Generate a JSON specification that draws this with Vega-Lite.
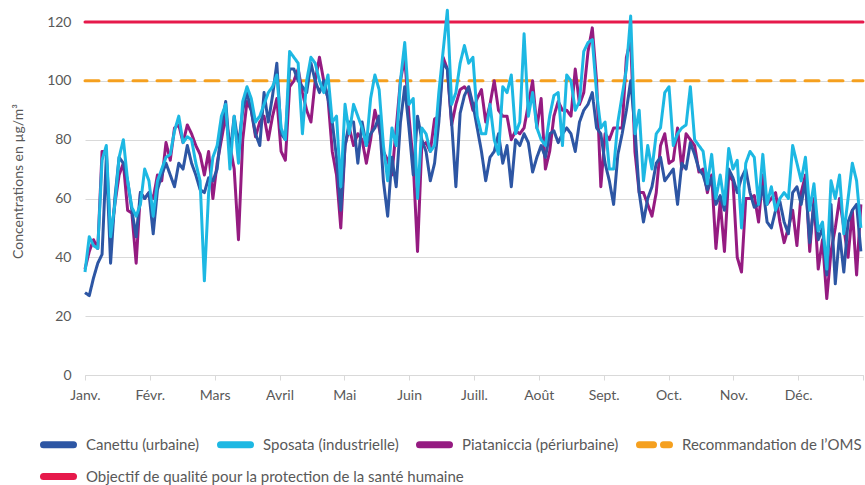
{
"$schema": "https://vega.github.io/schema/vega-lite/v6.json",
"width": 778, "height": 353,
"autosize": {"type": "none"},
"padding": {"left": 85, "top": 22, "right": 2, "bottom": 110},
"config": {"font": "Lato", "view": {"stroke": null}},
"datasets": {
"mesures": [
{"j":0,"c":28,"s":35,"p":36},{"j":2,"c":27,"s":47,"p":42},{"j":4,"c":33,"s":44,"p":46},{"j":6,"c":38,"s":43,"p":43},{"j":8,"c":41,"s":73,"p":76},{"j":10,"c":74,"s":78,"p":76},{"j":12,"c":38,"s":47,"p":46},{"j":14,"c":60,"s":58,"p":58},{"j":16,"c":74,"s":74,"p":68},{"j":18,"c":72,"s":80,"p":72},
{"j":20,"c":66,"s":66,"p":56},{"j":22,"c":56,"s":57,"p":55},{"j":24,"c":47,"s":54,"p":38},{"j":26,"c":62,"s":58,"p":62},{"j":28,"c":60,"s":70,"p":60},{"j":30,"c":62,"s":66,"p":62},{"j":32,"c":48,"s":54,"p":60},{"j":34,"c":63,"s":66,"p":68},{"j":36,"c":68,"s":70,"p":66},{"j":38,"c":72,"s":74,"p":79},
{"j":40,"c":68,"s":75,"p":73},{"j":42,"c":64,"s":83,"p":84},{"j":44,"c":72,"s":88,"p":85},{"j":46,"c":70,"s":79,"p":79},{"j":48,"c":78,"s":81,"p":85},{"j":50,"c":72,"s":80,"p":82},{"j":52,"c":68,"s":72,"p":78},{"j":54,"c":63,"s":66,"p":75},{"j":56,"c":62,"s":32,"p":68},{"j":58,"c":67,"s":62,"p":76},
{"j":60,"c":66,"s":74,"p":60},{"j":62,"c":70,"s":78,"p":72},{"j":64,"c":84,"s":88,"p":80},{"j":66,"c":93,"s":92,"p":88},{"j":68,"c":75,"s":70,"p":78},{"j":70,"c":88,"s":88,"p":70},{"j":72,"c":78,"s":72,"p":46},{"j":74,"c":90,"s":93,"p":80},{"j":76,"c":96,"s":98,"p":93},{"j":78,"c":90,"s":94,"p":90},
{"j":80,"c":82,"s":86,"p":81},{"j":82,"c":78,"s":88,"p":86},{"j":84,"c":96,"s":92,"p":88},{"j":86,"c":86,"s":96,"p":80},{"j":88,"c":95,"s":98,"p":88},{"j":90,"c":106,"s":102,"p":94},{"j":92,"c":82,"s":84,"p":76},{"j":94,"c":80,"s":80,"p":73},{"j":96,"c":104,"s":110,"p":98},{"j":98,"c":104,"s":108,"p":100},
{"j":100,"c":100,"s":106,"p":104},{"j":102,"c":98,"s":82,"p":96},{"j":104,"c":96,"s":100,"p":90},{"j":106,"c":106,"s":108,"p":86},{"j":108,"c":100,"s":106,"p":100},{"j":110,"c":96,"s":100,"p":108},{"j":112,"c":100,"s":96,"p":100},{"j":114,"c":94,"s":102,"p":94},{"j":116,"c":86,"s":86,"p":76},{"j":118,"c":74,"s":88,"p":68},
{"j":120,"c":56,"s":64,"p":50},{"j":122,"c":78,"s":92,"p":78},{"j":124,"c":86,"s":82,"p":84},{"j":126,"c":86,"s":92,"p":78},{"j":128,"c":72,"s":88,"p":82},{"j":130,"c":86,"s":84,"p":80},{"j":132,"c":78,"s":78,"p":72},{"j":134,"c":82,"s":94,"p":80},{"j":136,"c":84,"s":102,"p":90},{"j":138,"c":88,"s":97,"p":84},
{"j":140,"c":66,"s":78,"p":76},{"j":142,"c":54,"s":66,"p":73},{"j":144,"c":74,"s":84,"p":68},{"j":146,"c":64,"s":78,"p":84},{"j":148,"c":86,"s":100,"p":100},{"j":150,"c":98,"s":113,"p":108},{"j":152,"c":84,"s":92,"p":88},{"j":154,"c":68,"s":94,"p":72},{"j":156,"c":88,"s":60,"p":42},{"j":158,"c":80,"s":84,"p":78},
{"j":160,"c":76,"s":82,"p":79},{"j":162,"c":66,"s":76,"p":76},{"j":164,"c":72,"s":78,"p":87},{"j":166,"c":86,"s":96,"p":88},{"j":168,"c":106,"s":110,"p":108},{"j":170,"c":104,"s":124,"p":104},{"j":172,"c":86,"s":92,"p":85},{"j":174,"c":64,"s":96,"p":92},{"j":176,"c":89,"s":106,"p":97},{"j":178,"c":95,"s":112,"p":98},
{"j":180,"c":98,"s":106,"p":96},{"j":182,"c":92,"s":108,"p":90},{"j":184,"c":84,"s":88,"p":94},{"j":186,"c":76,"s":82,"p":97},{"j":188,"c":66,"s":82,"p":86},{"j":190,"c":74,"s":92,"p":92},{"j":192,"c":76,"s":80,"p":100},{"j":194,"c":82,"s":75,"p":90},{"j":196,"c":72,"s":98,"p":88},{"j":198,"c":78,"s":96,"p":88},
{"j":200,"c":64,"s":102,"p":80},{"j":202,"c":80,"s":82,"p":83},{"j":204,"c":78,"s":86,"p":82},{"j":206,"c":82,"s":116,"p":84},{"j":208,"c":79,"s":88,"p":92},{"j":210,"c":69,"s":96,"p":100},{"j":212,"c":74,"s":84,"p":84},{"j":214,"c":78,"s":80,"p":94},{"j":216,"c":74,"s":78,"p":70},{"j":218,"c":82,"s":88,"p":76},
{"j":220,"c":83,"s":95,"p":88},{"j":222,"c":79,"s":96,"p":93},{"j":224,"c":82,"s":78,"p":90},{"j":226,"c":84,"s":102,"p":90},{"j":228,"c":82,"s":100,"p":88},{"j":230,"c":76,"s":90,"p":104},{"j":232,"c":86,"s":93,"p":92},{"j":234,"c":90,"s":110,"p":96},{"j":236,"c":92,"s":113,"p":110},{"j":238,"c":96,"s":114,"p":118},
{"j":240,"c":84,"s":96,"p":100},{"j":242,"c":82,"s":84,"p":64},{"j":244,"c":72,"s":86,"p":82},{"j":246,"c":66,"s":70,"p":80},{"j":248,"c":58,"s":70,"p":84},{"j":250,"c":75,"s":86,"p":84},{"j":252,"c":82,"s":95,"p":84},{"j":254,"c":90,"s":104,"p":108},{"j":256,"c":100,"s":122,"p":114},{"j":258,"c":84,"s":82,"p":76},
{"j":260,"c":62,"s":90,"p":62},{"j":262,"c":52,"s":66,"p":62},{"j":264,"c":60,"s":78,"p":58},{"j":266,"c":64,"s":70,"p":54},{"j":268,"c":72,"s":82,"p":62},{"j":270,"c":74,"s":84,"p":78},{"j":272,"c":66,"s":96,"p":82},{"j":274,"c":68,"s":98,"p":72},{"j":276,"c":70,"s":78,"p":73},{"j":278,"c":58,"s":82,"p":84},
{"j":280,"c":72,"s":84,"p":70},{"j":282,"c":70,"s":85,"p":82},{"j":284,"c":79,"s":98,"p":80},{"j":286,"c":75,"s":80,"p":78},{"j":288,"c":70,"s":78,"p":69},{"j":290,"c":68,"s":76,"p":70},{"j":292,"c":63,"s":65,"p":62},{"j":294,"c":67,"s":75,"p":68},{"j":296,"c":58,"s":60,"p":43},{"j":298,"c":61,"s":68,"p":59},
{"j":300,"c":56,"s":58,"p":42},{"j":302,"c":70,"s":77,"p":68},{"j":304,"c":67,"s":70,"p":66},{"j":306,"c":62,"s":73,"p":40},{"j":308,"c":67,"s":50,"p":35},{"j":310,"c":70,"s":72,"p":60},{"j":312,"c":62,"s":76,"p":60},{"j":314,"c":57,"s":74,"p":61},{"j":316,"c":58,"s":58,"p":52},{"j":318,"c":64,"s":75,"p":68},
{"j":320,"c":52,"s":58,"p":58},{"j":322,"c":50,"s":64,"p":60},{"j":324,"c":56,"s":56,"p":62},{"j":326,"c":59,"s":60,"p":52},{"j":328,"c":52,"s":62,"p":45},{"j":330,"c":48,"s":60,"p":50},{"j":332,"c":62,"s":78,"p":56},{"j":334,"c":64,"s":72,"p":44},{"j":336,"c":58,"s":66,"p":62},{"j":338,"c":66,"s":74,"p":68},
{"j":340,"c":45,"s":56,"p":42},{"j":342,"c":58,"s":65,"p":60},{"j":344,"c":46,"s":49,"p":36},{"j":346,"c":50,"s":52,"p":46},{"j":348,"c":34,"s":36,"p":26},{"j":350,"c":58,"s":66,"p":42},{"j":352,"c":31,"s":60,"p":50},{"j":354,"c":48,"s":68,"p":60},{"j":356,"c":35,"s":48,"p":50},{"j":358,"c":52,"s":60,"p":40},
{"j":360,"c":56,"s":72,"p":56},{"j":362,"c":58,"s":66,"p":34},{"j":364,"c":42,"s":50,"p":58}
],
"objectif": [{"j":0,"k":"r","v":120},{"j":365,"k":"r","v":120}],
"oms": [{"j":0,"k":"o","v":100},{"j":365,"k":"o","v":100}]
},
"encoding": {
"x": {"field": "j", "type": "quantitative", "scale": {"domain": [0, 365], "nice": false, "zero": false},
 "axis": {"title": null, "values": [0, 30.4167, 60.8333, 91.25, 121.6667, 152.0833, 182.5, 212.9167, 243.3333, 273.75, 304.1667, 334.5833, 365],
  "labelExpr": "['Janv.','Févr.','Mars','Avril','Mai','Juin','Juill.','Août','Sept.','Oct.','Nov.','Déc.',''][round(datum.value/30.4167)]",
  "grid": false, "domainColor": "#D9D9D9", "domainWidth": 1, "tickColor": "#D9D9D9", "tickSize": 5, "labelPadding": 8,
  "labelFontSize": 14, "labelColor": "#595959", "labelFlush": false, "labelOverlap": false, "labelAlign": "center"}},
"y": {"field": "v", "type": "quantitative", "scale": {"domain": [0, 120], "nice": false},
 "axis": {"title": "Concentrations en µg/m³", "values": [0, 20, 40, 60, 80, 100, 120], "domain": false, "ticks": false,
  "grid": true, "gridColor": "#D9D9D9", "labelPadding": 14, "labelFontSize": 14, "labelColor": "#595959",
  "titleFontSize": 14, "titleFontWeight": "normal", "titleColor": "#595959", "titleX": -60, "titleY": 159}}
},
"layer": [
{"data": {"name": "objectif"},
 "mark": {"type": "line", "strokeWidth": 3, "strokeCap": "round"},
 "encoding": {
  "color": {"field": "k", "type": "nominal", "scale": {"domain": ["r"], "range": ["#E6194B"]},
   "legend": {"title": null, "orient": "none", "legendX": -45, "legendY": 436, "direction": "horizontal",
    "symbolType": "stroke", "symbolSize": 900, "symbolStrokeWidth": 7, "labelFontSize": 15, "labelColor": "#595959", "labelOffset": 9, "labelLimit": 600,
    "labelExpr": "'Objectif de qualité pour la protection de la santé humaine'",
    "encode": {"symbols": {"update": {"strokeCap": {"value": "round"}}}}}}
 }},
{"encoding": {
  "color": {"field": "k", "type": "nominal",
   "scale": {"domain": ["c", "s", "p", "o"], "range": ["#2D56A4", "#1DB8E3", "#951B81", "#F5A01F"]},
   "legend": {"title": null, "orient": "none", "legendX": -45, "legendY": 404, "direction": "horizontal",
    "symbolType": "stroke", "symbolSize": 900, "symbolStrokeWidth": 7, "labelFontSize": 15, "labelColor": "#595959", "labelOffset": 9,
    "columnPadding": 6, "labelLimit": 500,
    "labelExpr": "datum.value == 'c' ? 'Canettu (urbaine)' : datum.value == 's' ? 'Sposata (industrielle)' : datum.value == 'p' ? 'Piataniccia (périurbaine)' : 'Recommandation de l’OMS'",
    "encode": {"symbols": {"update": {"strokeCap": {"value": "round"}}}}}},
  "strokeDash": {"field": "k", "type": "nominal",
   "scale": {"domain": ["c", "s", "p", "o"], "range": [[1, 0], [1, 0], [1, 0], [14, 10]]},
   "legend": {"title": null, "orient": "none", "legendX": -45, "legendY": 404, "direction": "horizontal",
    "symbolType": "stroke", "symbolSize": 900, "symbolStrokeWidth": 7, "labelFontSize": 15, "labelColor": "#595959", "labelOffset": 9,
    "columnPadding": 6, "labelLimit": 500,
    "labelExpr": "datum.value == 'c' ? 'Canettu (urbaine)' : datum.value == 's' ? 'Sposata (industrielle)' : datum.value == 'p' ? 'Piataniccia (périurbaine)' : 'Recommandation de l’OMS'",
    "encode": {"symbols": {"update": {"strokeCap": {"value": "round"}}}}}}
 },
 "layer": [
  {"data": {"name": "oms"}, "mark": {"type": "line", "strokeWidth": 3, "strokeCap": "round"}},
  {"data": {"name": "mesures"}, "transform": [{"fold": ["p", "c", "s"], "as": ["k", "v"]}],
   "mark": {"type": "line", "strokeWidth": 3, "strokeJoin": "round"}}
 ]}
],
"resolve": {"scale": {"color": "independent", "strokeDash": "independent"}}
}
